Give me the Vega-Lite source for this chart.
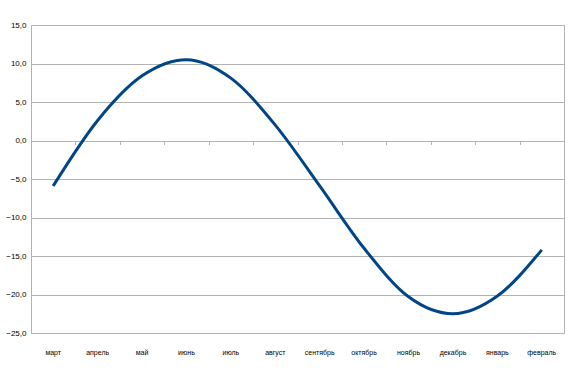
{
  "$schema": "https://vega.github.io/schema/vega-lite/v6.json",
  "width": 533,
  "height": 308,
  "autosize": {"type": "none"},
  "padding": {"left": 31, "top": 25, "right": 13, "bottom": 43},
  "background": "white",
  "config": {
    "view": {"stroke": "#b3b3b3", "strokeWidth": 1},
    "axis": {"labelFont": "Liberation Sans", "labelColor": "#000000", "labelFontWeight": "normal"}
  },
  "data": {
    "values": [
      {"month": "март", "value": -5.9},
      {"month": "апрель", "value": 2.6},
      {"month": "май", "value": 8.4},
      {"month": "июнь", "value": 10.5},
      {"month": "июль", "value": 8.1},
      {"month": "август", "value": 2.0},
      {"month": "сентябрь", "value": -5.9},
      {"month": "октябрь", "value": -14.0},
      {"month": "ноябрь", "value": -20.3},
      {"month": "декабрь", "value": -22.5},
      {"month": "январь", "value": -20.2},
      {"month": "февраль", "value": -14.2}
    ]
  },
  "layer": [
    {
      "mark": {"type": "line", "interpolate": "monotone", "color": "#004586", "strokeWidth": 3, "strokeCap": "butt"},
      "encoding": {
        "x": {
          "field": "month", "type": "ordinal", "sort": null, "bandPosition": 0.5,
          "scale": {"type": "band", "paddingInner": 0, "paddingOuter": 0},
          "axis": {"title": null, "labelAngle": 0, "labelFontSize": 7, "domain": false, "ticks": false, "grid": false, "labelPadding": 15}
        },
        "y": {
          "field": "value", "type": "quantitative",
          "scale": {"domain": [-25, 15], "nice": false, "zero": false},
          "axis": {
            "title": null, "values": [-25, -20, -15, -10, -5, 0, 5, 10, 15],
            "labelExpr": "replace(format(datum.value, '.1f'), '.', ',')",
            "labelFontSize": 8, "gridColor": "#b3b3b3", "gridWidth": 1,
            "domainColor": "#b3b3b3", "ticks": false, "labelPadding": 5
          }
        }
      }
    },
    {
      "mark": {"type": "rule", "opacity": 0},
      "encoding": {
        "x": {
          "field": "month", "type": "ordinal", "sort": null,
          "scale": {"type": "band", "paddingInner": 0, "paddingOuter": 0},
          "axis": {"title": null, "orient": "bottom", "offset": -192.5, "labels": false, "domain": false, "grid": false,
                   "ticks": true, "tickBand": "extent", "tickSize": 4, "tickColor": "#b3b3b3", "tickWidth": 1}
        }
      }
    }
  ],
  "resolve": {"axis": {"x": "independent"}}
}
